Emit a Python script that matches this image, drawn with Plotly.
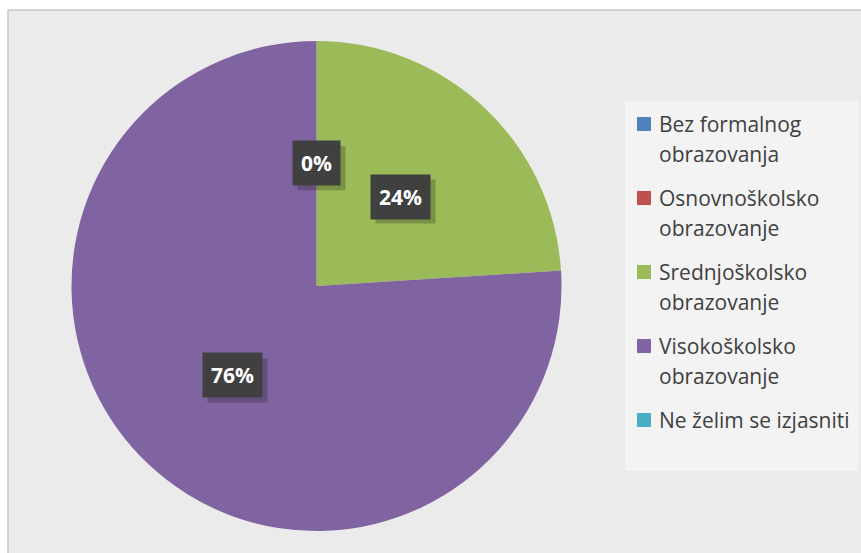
import math
import plotly.graph_objects as go

# education level shares
categories = [
    "Bez formalnog obrazovanja",
    "Osnovnoškolsko obrazovanje",
    "Srednjoškolsko obrazovanje",
    "Visokoškolsko obrazovanje",
    "Ne želim se izjasniti",
]
legend_lines = [
    ["Bez formalnog", "obrazovanja"],
    ["Osnovnoškolsko", "obrazovanje"],
    ["Srednjoškolsko", "obrazovanje"],
    ["Visokoškolsko", "obrazovanje"],
    ["Ne želim se izjasniti"],
]
shares = [0, 0, 24, 76, 0]
colors = ["#4f81bd", "#c0504d", "#9bbb59", "#8064a2", "#4bacc6"]

W, H = 861, 553
# pie area in pixels
pie_left, pie_right = 71, 562
pie_top, pie_bottom = 41, 531


def px(x):
    return x / W


def py(y):
    return 1 - y / H


fig = go.Figure(go.Pie(
    labels=categories,
    values=shares,
    marker=dict(colors=colors, line=dict(width=0)),
    sort=False,
    direction="clockwise",
    rotation=0,
    textinfo="none",
    hoverinfo="label+percent",
    domain=dict(x=[px(pie_left), px(pie_right)], y=[py(pie_bottom), py(pie_top)]),
))

# data labels placed at half radius along each slice's mid angle
cx = (pie_left + pie_right) / 2
cy = (pie_top + pie_bottom) / 2
r = (pie_right - pie_left) / 2
total = sum(shares)
cum = 0
placed = set()
for val in shares:
    mid = (cum + val / 2) / total
    cum += val
    ang = 2 * math.pi * mid
    lx = cx + 0.5 * r * math.sin(ang)
    ly = cy - 0.5 * r * math.cos(ang)
    # zero slices at 0 and 360 degrees share one spot, draw it once
    key = (round(lx), round(ly))
    if key in placed:
        continue
    placed.add(key)
    pct = f"{round(100 * val / total)}%"
    # soft shadow behind the label box
    bw = 12 * (len(pct) - 1) + 18 + 18
    bh = 44
    fig.add_shape(
        type="rect", xref="paper", yref="paper",
        xsizemode="pixel", ysizemode="pixel",
        xanchor=px(lx), yanchor=py(ly),
        x0=-bw / 2 + 5, x1=bw / 2 + 5, y0=-bh / 2 - 5, y1=bh / 2 - 5,
        fillcolor="rgba(0,0,0,0.22)", line=dict(width=0),
    )
    fig.add_annotation(
        x=px(lx), y=py(ly), xref="paper", yref="paper",
        xanchor="center", yanchor="middle",
        text=f"<b>{pct}</b>", showarrow=False,
        font=dict(family="Open Sans", size=21, color="white"),
        bgcolor="#404040", borderpad=8,
    )

# chart frame
fig.add_shape(
    type="rect", xref="paper", yref="paper",
    x0=px(8), x1=1.02, y0=-0.02, y1=py(10),
    fillcolor="#ebebeb", line=dict(color="#c6c6c6", width=1.5),
    layer="below",
)

# legend drawn by hand to match the item spacing
fig.add_shape(
    type="rect", xref="paper", yref="paper",
    x0=px(625), x1=px(858), y0=py(471), y1=py(101),
    fillcolor="#f3f3f3", line=dict(width=0), layer="below",
)
item_top, item_step, line_step = 124, 74, 30
for i, lines in enumerate(legend_lines):
    yc = item_top + i * item_step
    fig.add_shape(
        type="rect", xref="paper", yref="paper",
        x0=px(637), x1=px(651), y0=py(yc + 7), y1=py(yc - 7),
        fillcolor=colors[i], line=dict(width=0),
    )
    for j, txt in enumerate(lines):
        fig.add_annotation(
            x=px(657), y=py(yc + j * line_step), xref="paper", yref="paper",
            xanchor="left", yanchor="middle", text=txt, showarrow=False,
            font=dict(family="Open Sans", size=21, color="#404040"),
        )

fig.update_layout(
    width=W,
    height=H,
    margin=dict(l=0, r=0, t=0, b=0),
    paper_bgcolor="white",
    plot_bgcolor="white",
    showlegend=False,
)

fig.write_html(
    "out.html",
    config={"displayModeBar": False},
    post_script="document.body.style.margin='0';",
)
